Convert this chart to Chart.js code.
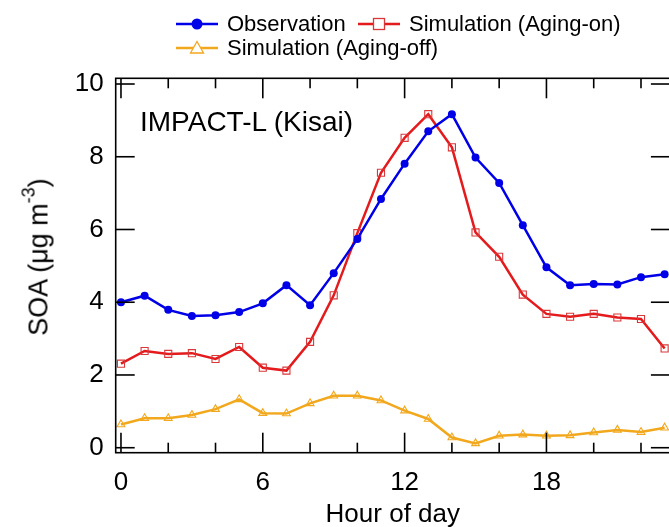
<!DOCTYPE html>
<html>
<head>
<meta charset="utf-8">
<script src="https://cdn.jsdelivr.net/npm/chart.js@4.4.1/dist/chart.umd.min.js"></script>
<style>
  html, body { margin: 0; padding: 0; background: #fff; overflow: hidden; }
  #wrap { position: relative; width: 676px; height: 527px; font-family: 'Liberation Sans', Arial, sans-serif; color: #000; }
  #wrap canvas { position: absolute; left: 0; top: 0; }
  .legendItem { position: absolute; display: flex; align-items: center; font-size: 22px; white-space: nowrap; line-height: 24px; }
  .legendItem svg { margin-right: 9px; }
  #ytitle { position: absolute; left: 38px; top: 257px; transform: translate(-50%, -50%) rotate(-90deg); font-size: 27px; white-space: nowrap; }
  #ytitle sup { font-size: 18px; position: relative; top: -3px; }
  #site { position: absolute; left: 140px; top: 106px; font-size: 28px; white-space: nowrap; }
</style>
</head>
<body>
<div id="wrap">
  <canvas id="chart" width="676" height="527"></canvas>
  <div class="legendItem" style="left:176px; top:12px;">
    <svg width="42" height="20"><line x1="0" y1="10" x2="42" y2="10" stroke="#0000e8" stroke-width="2.5"/><circle cx="21" cy="10" r="5.5" fill="#0000e8"/></svg>Observation
  </div>
  <div class="legendItem" style="left:358px; top:12px;">
    <svg width="42" height="20"><line x1="0" y1="10" x2="42" y2="10" stroke="#e41a1c" stroke-width="2.5"/><rect x="15.5" y="4.5" width="11" height="11" fill="#fff" stroke="#d9383a" stroke-width="1.3"/></svg>Simulation (Aging-on)
  </div>
  <div class="legendItem" style="left:176px; top:36px;">
    <svg width="42" height="20"><line x1="0" y1="10" x2="42" y2="10" stroke="#f2a81d" stroke-width="2.5"/><polygon points="21,3.5 27.5,15 14.5,15" fill="#fff" stroke="#f2a81d" stroke-width="1.3"/></svg>Simulation (Aging-off)
  </div>
  <div id="ytitle">SOA (μg m<sup>-3</sup>)</div>
  <div id="site">IMPACT-L (Kisai)</div>
</div>
<script>
// hourly SOA values (μg m-3)
const hours = [0, 1, 2, 3, 4, 5, 6, 7, 8, 9, 10, 11, 12, 13, 14, 15, 16, 17, 18, 19, 20, 21, 22, 23];
const observation = [4.00, 4.18, 3.79, 3.62, 3.64, 3.73, 3.97, 4.47, 3.92, 4.80, 5.74, 6.84,
  7.81, 8.70, 9.17, 7.98, 7.28, 6.12, 4.96, 4.47, 4.50, 4.49, 4.69, 4.77];
const agingOn = [2.31, 2.66, 2.58, 2.60, 2.44, 2.77, 2.20, 2.12, 2.91, 4.19, 5.90, 7.56,
  8.52, 9.17, 8.26, 5.92, 5.25, 4.21, 3.68, 3.60, 3.68, 3.58, 3.54, 2.73];
const agingOff = [0.64, 0.81, 0.81, 0.90, 1.06, 1.33, 0.95, 0.94, 1.22, 1.43, 1.43, 1.30,
  1.02, 0.79, 0.28, 0.12, 0.33, 0.36, 0.33, 0.34, 0.42, 0.49, 0.43, 0.55];

const xTicks = [0, 6, 12, 18];
const xMinorTicks = [2, 4, 8, 10, 14, 16, 20, 22];
const yTicks = [0, 2, 4, 6, 8, 10];

const toPoints = vals => hours.map((h, i) => ({ x: h, y: vals[i] }));

// box with inward ticks on all four sides
const framePlugin = {
  id: 'frame',
  afterDraw(chart) {
    const { ctx, chartArea: { left, right, top, bottom }, scales: { x, y } } = chart;
    ctx.save();
    ctx.strokeStyle = '#000';
    ctx.lineWidth = 1.6;
    ctx.strokeRect(left, top, right - left, bottom - top);
    const seg = (x1, y1, x2, y2) => { ctx.beginPath(); ctx.moveTo(x1, y1); ctx.lineTo(x2, y2); ctx.stroke(); };
    xTicks.forEach(v => {
      const px = x.getPixelForValue(v);
      seg(px, bottom, px, bottom - 20);
      seg(px, top, px, top + 20);
    });
    xMinorTicks.forEach(v => {
      const px = x.getPixelForValue(v);
      seg(px, bottom, px, bottom - 10);
      seg(px, top, px, top + 10);
    });
    yTicks.forEach(v => {
      const py = y.getPixelForValue(v);
      seg(left, py, left + 19, py);
      seg(right, py, right - 19, py);
    });
    ctx.restore();
  }
};

const tickFont = { family: "'Liberation Sans', Arial, sans-serif", size: 26 };

new Chart(document.getElementById('chart').getContext('2d'), {
  type: 'line',
  data: {
    datasets: [
      {
        label: 'Observation',
        data: toPoints(observation),
        borderColor: '#0000e8',
        backgroundColor: '#0000e8',
        borderWidth: 2.5,
        pointStyle: 'circle',
        pointRadius: 4,
        pointBorderWidth: 0
      },
      {
        label: 'Simulation (Aging-on)',
        data: toPoints(agingOn),
        borderColor: '#e41a1c',
        backgroundColor: 'rgba(0,0,0,0)',
        pointBorderColor: '#d9383a',
        borderWidth: 2.5,
        pointStyle: 'rect',
        pointRadius: 5,
        pointBorderWidth: 1.1
      },
      {
        label: 'Simulation (Aging-off)',
        data: toPoints(agingOff),
        borderColor: '#f2a81d',
        backgroundColor: 'rgba(0,0,0,0)',
        pointBorderColor: '#f2a81d',
        borderWidth: 2.5,
        pointStyle: 'triangle',
        pointRadius: 4.5,
        pointBorderWidth: 1.1
      }
    ]
  },
  options: {
    responsive: false,
    animation: false,
    devicePixelRatio: 1,
    layout: { padding: { top: 78.3, right: 3.9, left: 0, bottom: 0 } },
    plugins: {
      legend: { display: false },
      tooltip: { enabled: false }
    },
    scales: {
      x: {
        type: 'linear',
        min: -0.223,
        max: 23.223,
        afterBuildTicks: axis => { axis.ticks = xTicks.map(v => ({ value: v })); },
        afterFit: axis => { axis.height = 74.3; },
        grid: { display: false },
        border: { display: false },
        ticks: { font: tickFont, color: '#000', padding: 7, maxRotation: 0 },
        title: {
          display: true,
          text: 'Hour of day',
          font: tickFont,
          color: '#000',
          padding: { top: 0, bottom: -3 }
        }
      },
      y: {
        min: -0.137,
        max: 10.157,
        afterBuildTicks: axis => { axis.ticks = yTicks.map(v => ({ value: v })); },
        afterFit: axis => { axis.width = 115.7; },
        grid: { display: false },
        border: { display: false },
        ticks: { font: tickFont, color: '#000', padding: 4 }
      }
    }
  },
  plugins: [framePlugin]
});
</script>
</body>
</html>
